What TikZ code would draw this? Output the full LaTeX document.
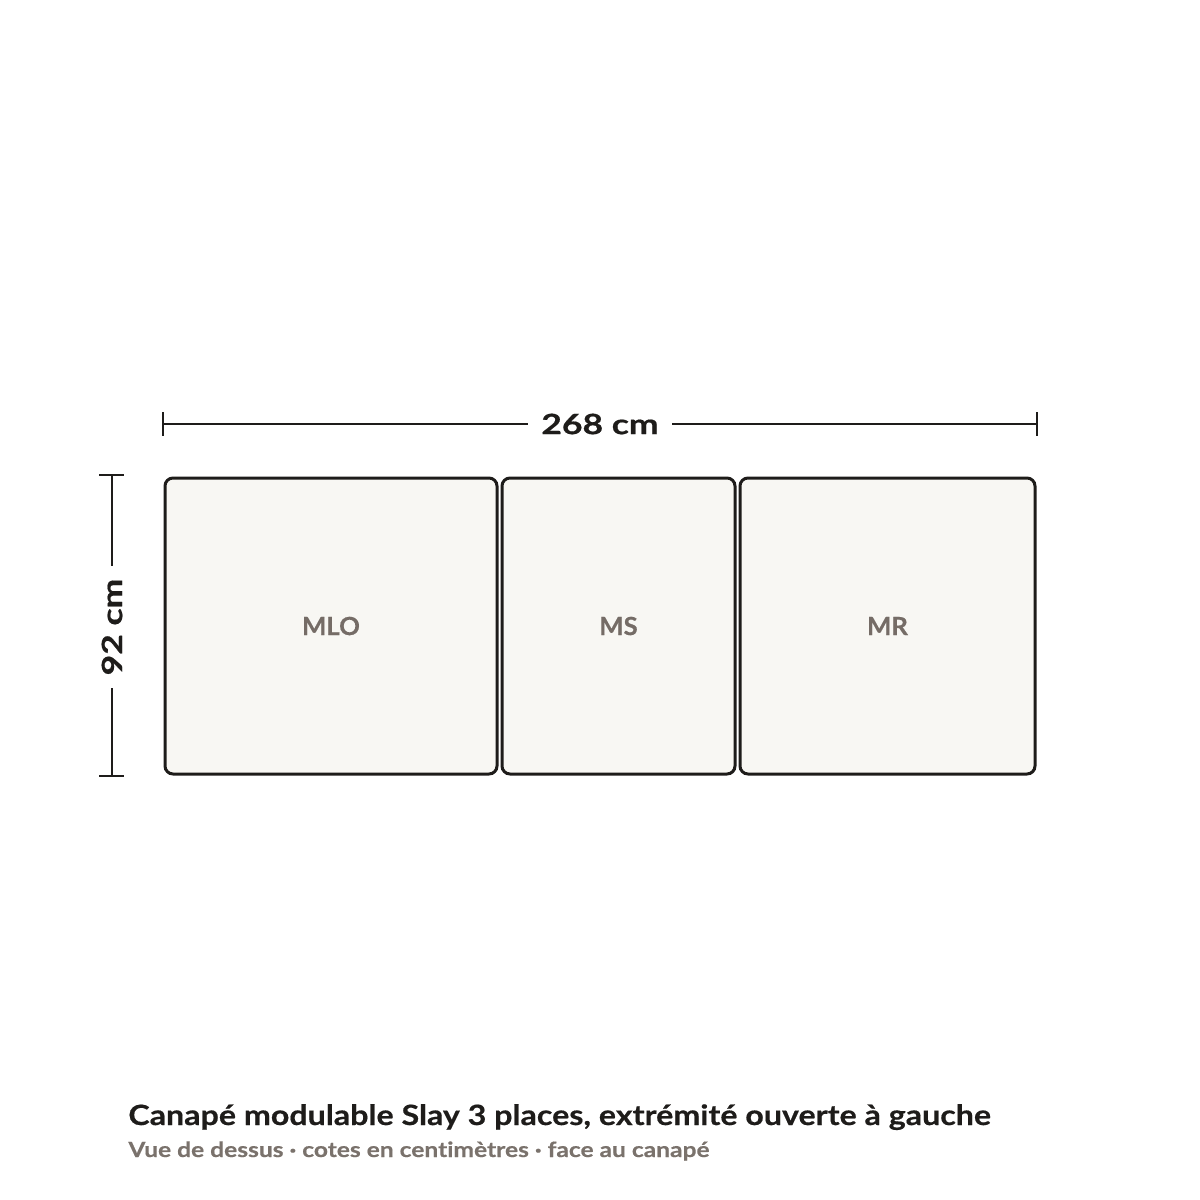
\documentclass[tikz,border=0pt]{standalone}
\usepackage{fontspec}
\setmainfont{Lato}
\newfontfamily\titlefont[FakeStretch=1.15,FakeBold=0.5,Ligatures=NoCommon]{Lato}
\newfontfamily\subfont[FakeStretch=1.17,FakeBold=0.5,Ligatures=NoCommon]{Lato}
\newfontfamily\dimfont[FakeStretch=1.27,FakeBold=0.6]{Lato}
\newfontfamily\lblfont[FakeStretch=1.03,FakeBold=0.4]{Lato}
\definecolor{ink}{HTML}{1E1C1A}
\definecolor{seat}{HTML}{F8F7F3}
\definecolor{lbl}{HTML}{756C66}
\definecolor{sub}{HTML}{7A726C}
\begin{document}
\begin{tikzpicture}[x=0.5pt,y=-0.5pt,
  module/.style={draw=ink,fill=seat,line width=1.5pt,rounded corners=4pt,inner sep=0pt,
    font=\lblfont\fontsize{12.5}{14}\selectfont\bfseries,text=lbl},
  dimline/.style={draw=ink,line width=1pt},
  dimtext/.style={font=\dimfont\fontsize{14}{16}\selectfont\bfseries,text=ink,inner sep=0pt}]
\useasboundingbox (0,0) rectangle (1200,1200);
% modules
\node[module,minimum width=166pt,minimum height=148pt] (mlo) at (331,626) {MLO};
\node[module,minimum width=116.5pt,minimum height=148pt] (ms) at (618.5,626) {MS};
\node[module,minimum width=147.5pt,minimum height=148pt] (mr) at (887.5,626) {MR};
% horizontal dimension
\coordinate (hl) at (163,424);
\coordinate (hr) at (1037,424);
\node[dimtext,minimum width=72pt,minimum height=10pt] (hw) at (600,424) {268 cm};
\draw[dimline] (hl) -- (hw.west);
\draw[dimline] (hw.east) -- (hr);
\draw[dimline] ([yshift=6pt]hl) -- ([yshift=-6pt]hl);
\draw[dimline] ([yshift=6pt]hr) -- ([yshift=-6pt]hr);
% vertical dimension
\coordinate (vt) at (112,475);
\coordinate (vb) at (112,776);
\node[dimtext,rotate=90,minimum width=61pt,minimum height=10pt] (vh) at (112,627) {92 cm};
\draw[dimline] (vt) -- (vh.east);
\draw[dimline] (vh.west) -- (vb);
\draw[dimline] ([xshift=-6.5pt]vt) -- ([xshift=6pt]vt);
\draw[dimline] ([xshift=-6.5pt]vb) -- ([xshift=6pt]vb);
% captions
\node[anchor=base west,inner sep=0pt,text=ink,font=\titlefont\fontsize{14}{16}\selectfont\bfseries] (title) at (128,1125) {Canapé modulable Slay 3 places, extrémité ouverte à gauche};
\node[anchor=base west,inner sep=0pt,text=sub,font=\subfont\fontsize{10.5}{12}\selectfont\bfseries] (subt) at (128,1157) {Vue de dessus · cotes en centimètres · face au canapé};
\end{tikzpicture}
\end{document}
